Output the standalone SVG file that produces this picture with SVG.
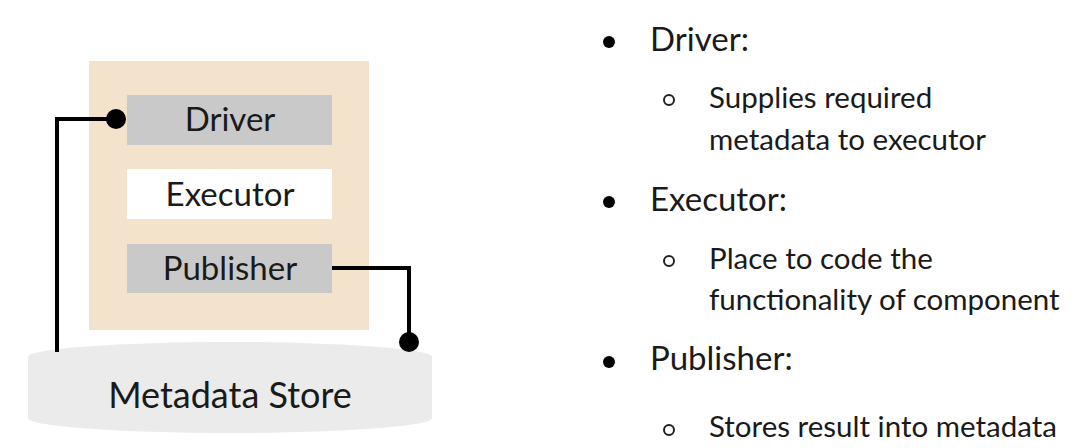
<svg xmlns="http://www.w3.org/2000/svg" width="1077" height="448" viewBox="0 0 1077 448">
<style>
text{font-family:Lato,"Noto Sans",sans-serif;fill:#1a1a1a}
.box{font-size:33px}
.gray{fill:#c9c9c9}
.conn{fill:none;stroke:#000;stroke-width:4}
.h{font-size:33px}
.s{font-size:29.5px}
.hb{fill:none;stroke:#222;stroke-width:2}
</style>
<rect width="1077" height="448" fill="#fff"/>
<g id="component">
<rect x="89" y="61" width="280" height="269" fill="#f3e3cd"/>
</g>
<g id="store">
<path d="M28 357 A202 15 0 0 1 432 357 V418 A202 15 0 0 1 28 418 Z" fill="#ebebeb"/>
<text x="230" y="408" text-anchor="middle" style="font-size:36px">Metadata Store</text>
</g>
<g id="driver">
<rect class="gray" x="127" y="95" width="205" height="50"/>
<text class="box" x="230" y="131" text-anchor="middle">Driver</text>
</g>
<g id="executor">
<rect x="127" y="169" width="205" height="50" fill="#fff"/>
<text class="box" x="230" y="206" text-anchor="middle">Executor</text>
</g>
<g id="publisher">
<rect class="gray" x="127" y="244" width="205" height="49"/>
<text class="box" x="230" y="280" text-anchor="middle">Publisher</text>
</g>
<g id="connectors">
<polyline class="conn" points="57,352 57,119 116,119"/>
<circle cx="116" cy="119" r="10"/>
<polyline class="conn" points="332,268 409,268 409,342"/>
<circle cx="409" cy="342" r="10"/>
</g>
<g id="notes">
<circle cx="609" cy="42" r="6"/>
<text class="h" x="650" y="51">Driver:</text>
<circle class="hb" cx="669" cy="100" r="5"/>
<text class="s" x="709" y="108">Supplies required</text>
<text class="s" x="709" y="150">metadata to executor</text>
<circle cx="609" cy="202" r="6"/>
<text class="h" x="650" y="211">Executor:</text>
<circle class="hb" cx="669" cy="261" r="5"/>
<text class="s" x="709" y="269">Place to code the</text>
<text class="s" x="709" y="310">functionality of component</text>
<circle cx="609" cy="362" r="6"/>
<text class="h" x="650" y="370">Publisher:</text>
<circle class="hb" cx="669" cy="430" r="5"/>
<text class="s" x="709" y="437">Stores result into metadata</text>
</g>
</svg>
